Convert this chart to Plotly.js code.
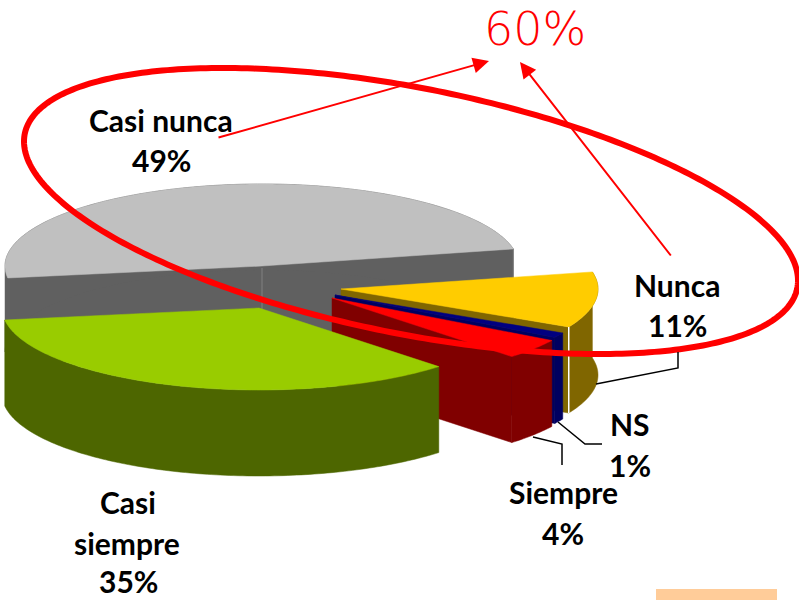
<!DOCTYPE html>
<html>
<head>
<meta charset="utf-8">
<script src="https://cdn.plot.ly/plotly-3.0.1.min.js"></script>
<style>html,body{margin:0;padding:0;background:#fff}</style>
</head>
<body>
<div id="chart" style="width:799px;height:600px"></div>
<script>
// Data (clockwise from the gray slice's right edge)
var categories = ["Nunca", "NS", "Siempre", "Casi siempre", "Casi nunca"];
var values = [11, 1, 4, 35, 49];
var topColors = ["#FFCC00", "#000080", "#FF0000", "#99CC00", "#C0C0C0"];
var wallColors = ["#806600", "#000060", "#800000", "#4D6600", "#606060"];

// Pie geometry (pixel-space axes): exploded centres of each slice
var centers = {
  "Nunca": [341, 289], "NS": [335, 295], "Siempre": [332, 298],
  "Casi siempre": [259, 308], "Casi nunca": [262, 266]
};
var RX = 257, RY = 82, H = 86, START = 12;

function pt(c, deg, dz) {
  var r = deg * Math.PI / 180;
  return [c[0] + RX * Math.cos(r), c[1] - RY * Math.sin(r) + (dz || 0)];
}
function arc(c, a, b, dz) {
  var out = [], n = Math.max(2, Math.ceil(Math.abs(a - b)));
  for (var i = 0; i <= n; i++) out.push(pt(c, a + (b - a) * i / n, dz));
  return out;
}
function poly(pts, fill, lineColor, lw) {
  return {
    type: "scatter", mode: "lines", hoverinfo: "skip", showlegend: false,
    x: pts.map(function (p) { return p[0]; }).concat([pts[0][0]]),
    y: pts.map(function (p) { return p[1]; }).concat([pts[0][1]]),
    fill: "toself", fillcolor: fill,
    line: { color: lineColor || fill, width: lw === undefined ? 0.5 : lw, simplify: false }
  };
}
function line(pts, color, w) {
  return {
    type: "scatter", mode: "lines", hoverinfo: "skip", showlegend: false,
    x: pts.map(function (p) { return p[0]; }),
    y: pts.map(function (p) { return p[1]; }),
    line: { color: color, width: w, simplify: false }
  };
}

// slice angle spans derived from the values
var total = values.reduce(function (a, b) { return a + b; }, 0);
var spans = {}, cur = START;
categories.forEach(function (name, i) {
  var next = cur - values[i] / total * 360;
  spans[name] = { a: cur, b: next, top: topColors[i], wall: wallColors[i] };
  cur = next;
});

function sliceTraces(name, cuts, outer) {
  var s = spans[name], c = centers[name], tr = [];
  var apexLow = [c[0], c[1] + H];
  cuts.forEach(function (ang) {
    tr.push(poly([c, pt(c, ang), pt(c, ang, H), apexLow], s.wall));
  });
  if (outer) {
    tr.push(poly(arc(c, outer[0], outer[1]).concat(arc(c, outer[1], outer[0], H)), s.wall));
  }
  tr.push(poly([c].concat(arc(c, s.a, s.b)), s.top));
  return tr;
}

var gy = spans["Casi nunca"], yl = spans["Nunca"], ns = spans["NS"],
    rd = spans["Siempre"], gr = spans["Casi siempre"];
var gc = centers["Casi nunca"];
var traces = [];
// gray: two cut faces plus the small left end of its rim
traces = traces.concat(sliceTraces("Casi nunca", [gy.a, gy.b], [gy.b, -180]));
traces.push(line([[gc[0], 268], [gc[0], 310]], "#808080", 1));
traces.push(line([pt(gc, gy.b), pt(gc, gy.b, 40)], "#8a8a8a", 1));
// yellow
traces = traces.concat(sliceTraces("Nunca", [yl.b], [yl.a, yl.b]));
traces.push(line([pt(centers["Nunca"], yl.b), pt(centers["Nunca"], yl.b, H)], "#ffffff", 1.5));
// navy
traces = traces.concat(sliceTraces("NS", [ns.b], [ns.a, ns.b]));
// red
traces = traces.concat(sliceTraces("Siempre", [rd.b], [rd.a, rd.b]));
// green
traces = traces.concat(sliceTraces("Casi siempre", [], [gr.a, gr.b]));

// big hand-drawn style ellipse
var ell = [];
for (var t = 0; t <= 360; t += 1) {
  var r = t * Math.PI / 180;
  ell.push([411 + 387 * Math.cos(r), 211 + 69.5 * Math.cos(r) + 125 * Math.sin(r)]);
}
traces.push(line(ell, "#FF0000", 6));

// leader lines
traces.push(line([[596, 384], [678, 368], [678, 352]], "#000000", 1.5));
traces.push(line([[558, 422], [585, 444], [602, 444]], "#000000", 1.5));
traces.push(line([[533, 437], [562, 444], [562, 465]], "#000000", 1.5));

var FONT = "Lato,'Liberation Sans',sans-serif";
function lab(text, x, y) {
  return { text: "<b>" + text + "</b>", x: x, y: y, xref: "x", yref: "y", showarrow: false,
    xanchor: "center", yanchor: "middle", font: { family: FONT, size: 30, color: "#000" } };
}
var annotations = [
  lab("Casi nunca", 161, 120), lab("49%", 161, 160),
  lab("Nunca", 677, 285), lab("11%", 677, 325),
  lab("NS", 630, 424), lab("1%", 630, 465),
  lab("Siempre", 563, 492), lab("4%", 563, 533),
  lab("Casi", 128, 502), lab("siempre", 127, 543), lab("35%", 128, 581),
  { text: "60%", x: 535, y: 0, xref: "x", yref: "y", showarrow: false, xanchor: "center", yanchor: "top",
    font: { family: "'DejaVu Sans ExtraLight','DejaVu Sans',sans-serif", size: 46, color: "#FF0000", weight: 200 } },
  { text: "", x: 489, y: 61, ax: 217, ay: 138, xref: "x", yref: "y", axref: "x", ayref: "y",
    showarrow: true, arrowhead: 2, arrowsize: 1.6, arrowwidth: 2, arrowcolor: "#FF0000" },
  { text: "", x: 520, y: 62, ax: 672, ay: 257, xref: "x", yref: "y", axref: "x", ayref: "y",
    showarrow: true, arrowhead: 2, arrowsize: 1.6, arrowwidth: 2, arrowcolor: "#FF0000" }
];

var layout = {
  width: 799, height: 600, margin: { l: 0, r: 0, t: 0, b: 0 },
  paper_bgcolor: "#fff", plot_bgcolor: "#fff", showlegend: false,
  xaxis: { range: [0, 799], visible: false, fixedrange: true },
  yaxis: { range: [600, 0], visible: false, fixedrange: true },
  annotations: annotations,
  shapes: [{ type: "rect", xref: "x", yref: "y", x0: 656, x1: 777, y0: 589, y1: 600,
    fillcolor: "#FFCC99", line: { width: 0 } }]
};
Plotly.newPlot("chart", traces, layout, { displayModeBar: false, staticPlot: true });
</script>
</body>
</html>
